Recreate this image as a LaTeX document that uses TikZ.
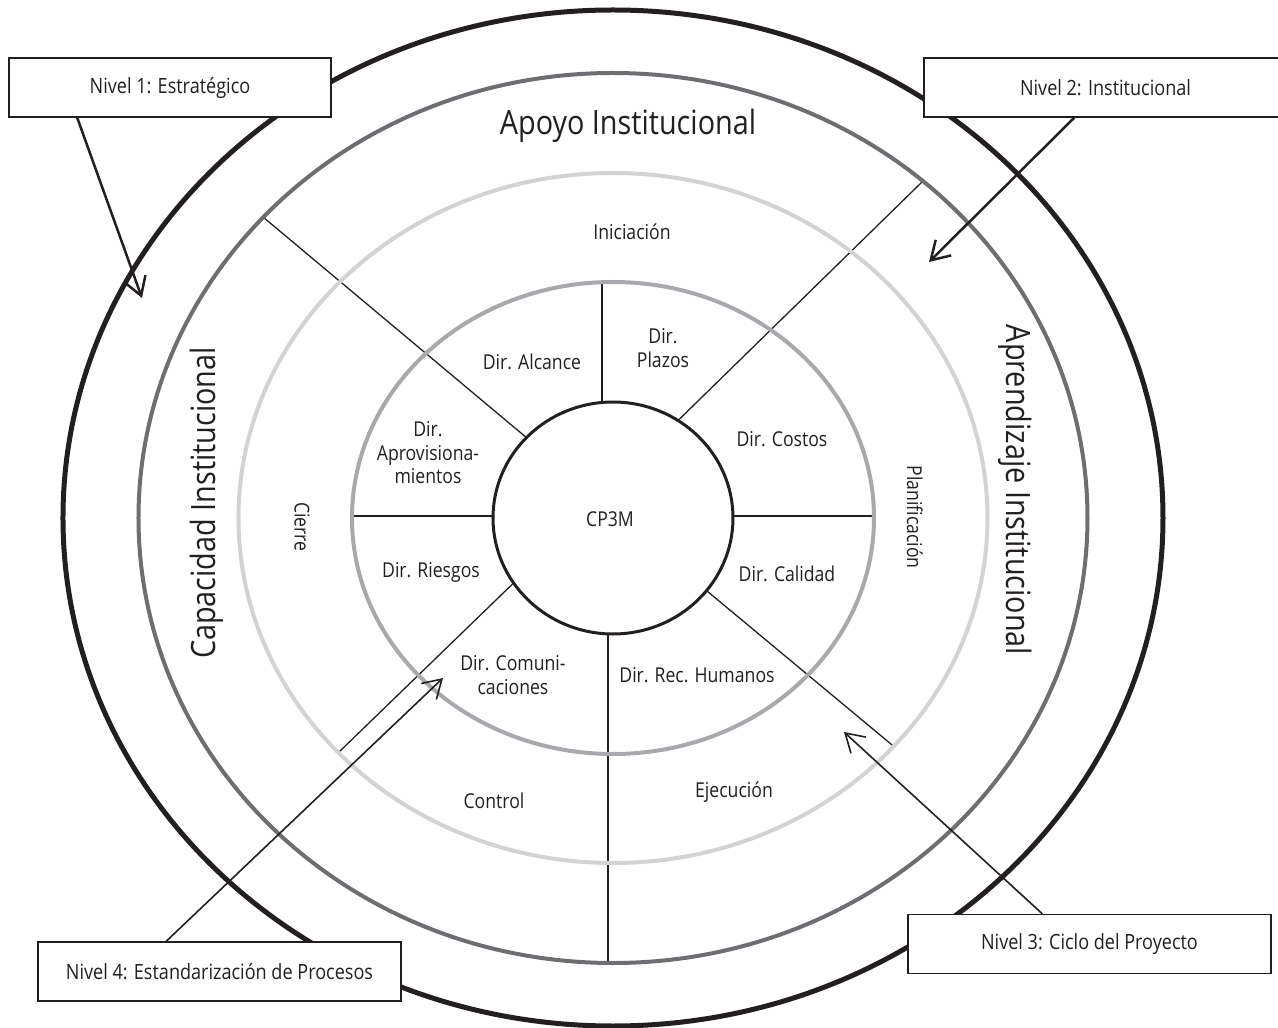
\documentclass[tikz,border=0pt]{standalone}
\usepackage{fontspec}
\setmainfont{Open Sans}[FakeStretch=0.86]
\usepackage{tikz}
\usetikzlibrary{arrows.meta}
\definecolor{inkblack}{HTML}{231F20}
\definecolor{ringdark}{HTML}{6D6E71}
\definecolor{ringmid}{HTML}{A7A9AC}
\definecolor{ringlight}{HTML}{D1D3D4}

\begin{document}
\begin{tikzpicture}[x=1pt,y=1pt,
  ring/.style={line width=4pt},
  spoke/.style={draw=inkblack,line width=1.3pt},
  lbl/.style={text=inkblack,font=\fontsize{20.5}{23.5}\selectfont,align=center,inner sep=0pt},
  biglbl/.style={text=inkblack,font=\fontsize{33.5}{38}\selectfont,inner sep=0pt},
  levelbox/.style={draw=inkblack,line width=1.5pt,fill=white,minimum height=59pt,
    text=inkblack,font=\fontsize{21}{24}\selectfont},
  levelarrow/.style={draw=inkblack,line width=2.5pt,-{Straight Barb[length=18pt,width=22pt]}},
  levelarrowthin/.style={levelarrow,line width=1.6pt}]
\useasboundingbox (-613,-510) rectangle (665,518);

\draw[spoke] (-11,100) -- (-11,236);
\draw[spoke] (-5,-100) -- (-5,-445);
\draw[spoke] (-100,2) -- (-260,2);
\draw[spoke] (100,2) -- (262,2);
\draw[spoke] (-61,59) -- (-350,301);
\draw[spoke] (41,74) -- (309,336);
\draw[spoke] (-85,-51) -- (-275,-235);
\draw[spoke] (76,-58) -- (281,-228.6);

\draw[inkblack,line width=5pt] (0,0) ellipse [x radius=550,y radius=508];
\draw[ring,ringdark] (0,0) ellipse [x radius=474.5,y radius=445];
\draw[ring,ringlight] (0,0) ellipse [x radius=374.5,y radius=345];
\draw[ring,ringmid] (0,0) ellipse [x radius=261,y radius=236];
\draw[inkblack,line width=3pt,fill=white] (0,0) ellipse [x radius=120,y radius=116];

\node[biglbl] (apoyo) at (15,392) {Apoyo Institucional};
\node[biglbl,rotate=90] (capacidad) at (-406,15) {Capacidad Institucional};
\node[biglbl,rotate=-90] (aprendizaje) at (402,28) {Aprendizaje Institucional};
\node[lbl] (iniciacion) at (19,286) {Iniciación};
\node[lbl] (alcance) at (-81,156) {Dir. Alcance};
\node[lbl] (plazos) at (50,170) {Dir.\\Plazos};
\node[lbl] (costos) at (169,79) {Dir. Costos};
\node[lbl] (aprov) at (-185,65) {Dir.\\Aprovisiona-\\mientos};
\node[lbl] (core) at (-3,-1) {CP3M};
\node[lbl] (riesgos) at (-182,-54) {Dir. Riesgos};
\node[lbl] (calidad) at (174,-56) {Dir. Calidad};
\node[lbl] (comunic) at (-100,-157) {Dir. Comuni-\\caciones};
\node[lbl] (rrhh) at (84,-157) {Dir. Rec. Humanos};
\node[lbl] (control) at (-119,-283) {Control};
\node[lbl] (ejecucion) at (121,-274) {Ejecución};
\node[lbl,rotate=-90] (cierre) at (-311,-9) {Cierre};
\node[lbl,rotate=-90] (planif) at (302,1) {Planificación};

\node[levelbox,minimum width=322pt] (nivel1) at (-443,430.5) {Nivel 1: Estratégico};
\node[levelbox,minimum width=363pt] (nivel2) at (492.5,430.5) {Nivel 2: Institucional};
\node[levelbox,minimum width=363pt] (nivel3) at (476.5,-426) {Nivel 3: Ciclo del Proyecto};
\node[levelbox,minimum width=363pt] (nivel4) at (-393.5,-453.5) {Nivel 4: Estandarización de Procesos};

\coordinate (tip1) at (-471,220);
\coordinate (tip2) at (316,256);
\coordinate (tip3) at (231,-214);
\coordinate (tip4) at (-170,-160);
\draw[levelarrow] ([xshift=69pt]nivel1.south west) -- (tip1);
\draw[levelarrow] ([xshift=151pt]nivel2.south west) -- (tip2);
\draw[levelarrowthin] ([xshift=135pt]nivel3.north west) -- (tip3);
\draw[levelarrowthin] ([xshift=129pt]nivel4.north west) -- (tip4);
\end{tikzpicture}
\end{document}
